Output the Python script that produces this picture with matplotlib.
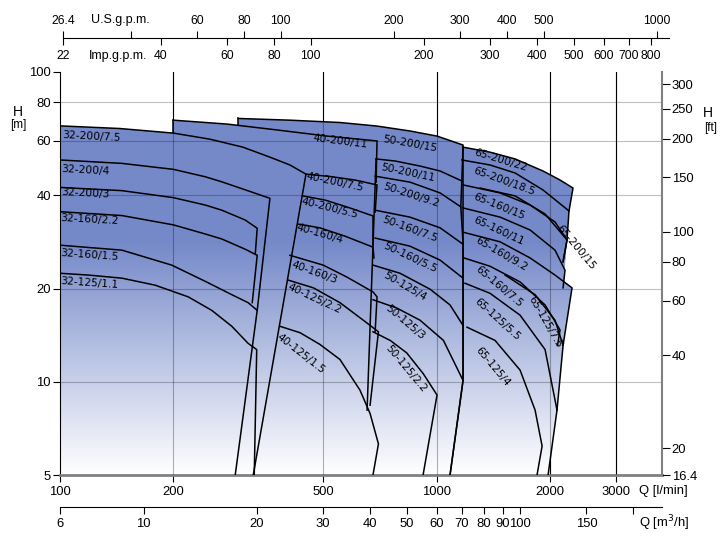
import matplotlib
matplotlib.use("Agg")
import matplotlib.pyplot as plt
from matplotlib.patches import Polygon
from matplotlib.colors import LinearSegmentedColormap
from matplotlib.ticker import NullLocator
import numpy as np

plt.rcParams['font.family'] = ['Liberation Sans Narrow', 'Liberation Sans', 'DejaVu Sans']
label_font = ['DejaVu Sans']

# ---- pump curves: Q [l/min], H [m] ----
names_32 = ['32-200/7.5', '32-200/4', '32-200/3', '32-160/2.2', '32-160/1.5', '32-125/1.1']
q_32 = [[100, 144, 200, 250, 306, 361, 408, 450],
        [100, 146, 200, 243, 269, 330, 361],
        [100, 146, 200, 243, 269, 310, 334],
        [100, 146, 200, 243, 269, 310, 334],
        [100, 146, 198, 243, 286, 316, 334],
        [100, 119, 146, 179, 219, 253, 286, 316, 333]]
h_32 = [[67.0, 65.7, 63.5, 60.7, 57.2, 53.1, 50.1, 46.8],
        [52.0, 50.7, 48.5, 45.9, 44.2, 40.6, 39.1],
        [42.4, 41.4, 39.3, 37.2, 35.8, 33.3, 31.3],
        [35.4, 34.4, 32.1, 30.0, 28.9, 26.8, 25.6],
        [27.6, 26.6, 23.8, 21.1, 19.1, 18.0, 17.0],
        [22.4, 22.1, 21.6, 20.5, 18.8, 17.0, 15.1, 13.3, 12.7]]
drop_32 = [(326, 5), (334, 17.0), (330, 25.8), (324, 18.0), (292, 5), (328, 5)]
left_32 = [100, 100, 100, 100, 100, 100]
right_32 = 326
lab_32 = [(121, 61.7, -3), (117, 48.3, -3), (117, 40.7, -3),
          (120, 33.3, -3), (120, 25.6, -4), (120, 20.9, -4)]

names_40 = ['40-200/11', '40-200/7.5', '40-200/5.5', '40-160/4', '40-160/3', '40-125/2.2', '40-125/1.5']
q_40 = [[200, 278, 377, 512, 695],
        [450, 521, 607, 695],
        [442, 506, 589, 678],
        [429, 490, 572, 678],
        [408, 500, 577, 678, 695],
        [403, 471, 554, 639, 701],
        [384, 434, 490, 554, 626, 666, 701]]
h_40 = [[69.9, 67.9, 65.0, 62.1, 59.9],
        [46.8, 46.0, 44.8, 43.2],
        [39.8, 38.6, 36.4, 34.3],
        [32.3, 31.4, 29.5, 27.2],
        [25.6, 23.8, 21.8, 19.5, 18.8],
        [21.3, 20.1, 18.0, 15.8, 14.5],
        [15.1, 14.4, 13.2, 11.8, 9.4, 7.9, 6.3]]
drop_40 = [(691, 44.1), (687, 35.3), (678, 27.6), (682, 25.1), (687, 14.5), (666, 8.4), (678, 5)]
left_40 = [200, 326, 326, 326, 326, 326, 326]
right_40 = 678
lab_40 = [(554, 59.6, -7), (538, 44.1, -12), (521, 36.4, -14), (490, 30.0, -16),
          (473, 22.6, -20), (475, 18.5, -25), (437, 12.3, -38)]

names_50 = ['50-200/15', '50-200/11', '50-200/9.2', '50-160/7.5', '50-160/5.5',
            '50-125/4', '50-125/3', '50-125/2.2']
q_50 = [[297, 408, 554, 695, 850, 1003, 1176],
        [691, 776, 904, 1022, 1167],
        [687, 850, 1022, 1160],
        [687, 850, 1022, 1176],
        [687, 850, 1022, 1176],
        [678, 800, 961, 1086, 1176],
        [678, 784, 904, 1043, 1176],
        [678, 753, 833, 923, 1003]]
h_50 = [[70.8, 69.9, 68.7, 66.9, 64.5, 62.1, 58.1],
        [52.4, 51.6, 49.7, 47.9, 44.5],
        [46.1, 44.1, 40.7, 36.7],
        [35.8, 34.0, 31.4, 27.8],
        [29.1, 27.4, 24.7, 21.6],
        [23.8, 22.4, 19.9, 17.7, 15.2],
        [18.4, 17.3, 15.8, 13.6, 10.1],
        [14.5, 13.6, 12.4, 10.6, 9.06]]
drop_50 = [(1167, 44.5), (1160, 36.7), (1176, 28.0), (1176, 21.6), (1176, 15.2),
           (1176, 10.1), (1086, 5), (921, 5)]
left_50 = [297, 678, 678, 678, 678, 678, 678, 678]
right_50 = 1086
lab_50 = [(850, 58.5, -10), (840, 47.2, -12), (855, 40.1, -18), (850, 31.1, -20),
          (850, 25.1, -25), (825, 20.3, -30), (825, 15.6, -40), (830, 11.0, -50)]

names_65 = ['65-200/22', '65-200/18.5', '65-200/15', '65-160/15', '65-160/11', '65-160/9.2',
            '65-160/7.5', '65-125/7.5', '65-125/5.5', '65-125/4']
q_65 = [[1176, 1387, 1617, 1918, 2128, 2304],
        [1167, 1387, 1617, 1918, 2248],
        [1305, 1617, 1942, 2221],
        [1176, 1475, 1772, 2064, 2221],
        [1176, 1475, 1772, 2064, 2194],
        [1176, 1475, 1772, 2064, 2290],
        [1183, 1387, 1667, 1942, 2128],
        [1521, 1827, 2064, 2168],
        [1190, 1387, 1667, 1942, 2089],
        [1205, 1430, 1667, 1827, 1907]]
h_65 = [[57.2, 55.1, 52.4, 47.9, 44.8, 42.2],
        [52.0, 50.1, 47.2, 41.6, 35.6],
        [42.2, 39.8, 34.8, 28.7],
        [43.2, 40.7, 37.2, 32.8, 28.7],
        [36.4, 34.0, 30.9, 26.6, 22.9],
        [30.4, 28.3, 25.1, 22.1, 20.1],
        [25.1, 23.6, 21.0, 17.7, 14.7],
        [22.1, 19.1, 15.8, 13.1],
        [20.8, 19.3, 16.4, 12.7, 8.1],
        [15.0, 13.6, 10.9, 8.1, 6.2]]
drop_65 = [(2248, 35.6), (2221, 28.7), (2168, 24.4), (2168, 24.4), (2168, 20.1),
           (2168, 13.1), (2096, 13.1), (2089, 8.1), (1978, 5), (1849, 5)]
left_65 = [1086] * 10
right_65 = 1978
lab_65 = [(1484, 52.0, -17), (1511, 44.5, -20), (2348, 27.2, -50), (1467, 36.7, -22),
          (1467, 30.6, -25), (1484, 25.9, -30), (1467, 20.3, -40), (1942, 15.6, -60),
          (1450, 15.9, -42), (1412, 11.2, -50)]

# boundary edges between families
edges = [[(200, 69.9), (200, 63.5)],
         [(297, 70.8), (297, 67.2)],
         [(691, 52.4), (654, 8.1)],
         [(1176, 57.2), (1176, 10.1), (1086, 5)]]

# axis ticks
q_ticks = [100, 200, 500, 1000, 2000, 3000]
h_ticks = [5, 10, 20, 40, 60, 80, 100]
ft_ticks = [16.4, 20, 40, 60, 80, 100, 150, 200, 250, 300]
m3h_ticks = [6, 10, 20, 30, 40, 50, 60, 70, 80, 90, 100, 150, 200]
m3h_labels = ['6', '10', '20', '30', '40', '50', '60', '70', '80', '90', '100', '150', '']
us_ticks = [26.4, 40, 60, 80, 100, 200, 300, 400, 500, 1000]
us_labels = ['26.4', '', '60', '80', '100', '200', '300', '400', '500', '1000']
imp_ticks = [22, 40, 60, 80, 100, 200, 300, 400, 500, 600, 700, 800]

q_max = 3970.0
blue = '#7589c9'
tick_fs = 9.4

fig = plt.figure(figsize=(7.24, 5.40), dpi=100)
ax = fig.add_axes([60 / 724, 65 / 540, 602 / 724, 403 / 540])
ax.set_xscale('log')
ax.set_yscale('log')

cmap = LinearSegmentedColormap.from_list('fade', [(0, '#ffffff'), (0.58, blue), (1, blue)])
grad = np.linspace(0, 1, 256).reshape(-1, 1)

families = [(names_32, q_32, h_32, drop_32, left_32, right_32, lab_32),
            (names_40, q_40, h_40, drop_40, left_40, right_40, lab_40),
            (names_50, q_50, h_50, drop_50, left_50, right_50, lab_50),
            (names_65, q_65, h_65, drop_65, left_65, right_65, lab_65)]

for names, qs, hs, drops, lefts, right, labs in families:
    for name, q, h, d, lb, (lq, lh, rot) in zip(names, qs, hs, drops, lefts, labs):
        pts = [(lb, 5)] + list(zip(q, h)) + [d, (right, 5)]
        poly = Polygon(pts, closed=True, transform=ax.transData)
        im = ax.imshow(grad, extent=(0, 1, 0, 1), transform=ax.transAxes, origin='lower',
                       aspect='auto', cmap=cmap, vmin=0, vmax=1, zorder=2)
        im.set_clip_path(poly)
        ax.plot(q + [d[0]], h + [d[1]], color='black', lw=1.1, zorder=4)
        ax.text(lq, lh, name, rotation=rot, rotation_mode='anchor', ha='center',
                va='center', fontsize=7.7, family=label_font, zorder=6)

for e in edges:
    ax.plot([p[0] for p in e], [p[1] for p in e], color='black', lw=1.1, zorder=4)

ax.set_xlim(100, q_max)
ax.set_ylim(5, 100)

# grid
for x in q_ticks[1:]:
    ax.axvline(x, color='black', lw=0.8, zorder=1)
    ax.axvline(x, color='black', lw=0.8, alpha=0.3, zorder=3)
for y in [10, 20, 40, 60, 80]:
    ax.axhline(y, color='black', lw=0.8, alpha=0.25, zorder=3)

ax.spines['top'].set_visible(False)
ax.spines['right'].set_visible(False)
ax.spines['left'].set_color('black')
ax.spines['bottom'].set_color('#808080')
ax.spines['bottom'].set_linewidth(2)
ax.xaxis.set_minor_locator(NullLocator())
ax.yaxis.set_minor_locator(NullLocator())
ax.set_xticks(q_ticks)
ax.set_xticklabels([str(t) for t in q_ticks])
ax.set_yticks(h_ticks)
ax.set_yticklabels([str(t) for t in h_ticks])
ax.tick_params(axis='x', direction='out', length=5, labelsize=tick_fs, pad=3)
ax.tick_params(axis='y', direction='out', length=5, labelsize=tick_fs, pad=1.5)

# right axis in feet
axr = ax.twinx()
axr.set_yscale('log')
axr.set_ylim(5 * 3.2808, 100 * 3.2808)
axr.yaxis.set_minor_locator(NullLocator())
axr.set_yticks(ft_ticks)
axr.set_yticklabels([str(t) for t in ft_ticks])
axr.tick_params(direction='out', length=6, labelsize=tick_fs, pad=1)
for s in ['top', 'left', 'bottom']:
    axr.spines[s].set_visible(False)
axr.spines['right'].set_color('#808080')
axr.spines['right'].set_linewidth(1.5)

# m3/h axis below
axm = fig.add_axes([60 / 724, 1 - 507 / 540, 602 / 724, 0.0005])
axm.set_xscale('log')
axm.set_xlim(100 / 16.667, q_max / 16.667)
for s in ['top', 'left', 'right']:
    axm.spines[s].set_visible(False)
axm.set_yticks([])
axm.xaxis.set_minor_locator(NullLocator())
axm.set_xticks(m3h_ticks)
axm.set_xticklabels(m3h_labels)
axm.tick_params(direction='out', length=5, labelsize=tick_fs, pad=3)

# gpm axis on top
axg = fig.add_axes([63 / 724, 1 - 38 / 540, 606 / 724, 0.0005])
axg.set_xscale('log')
axg.set_xlim(100, 100 * 10 ** (606 / 376.5))
for s in ['top', 'left', 'right']:
    axg.spines[s].set_visible(False)
axg.set_yticks([])
axg.xaxis.set_minor_locator(NullLocator())
axg.set_xticks([v * 4.546 for v in imp_ticks])
axg.set_xticklabels([str(v) for v in imp_ticks])
axg.tick_params(direction='out', length=5, labelsize=8.8, pad=3.5)
axu = axg.twiny()
axu.set_xscale('log')
axu.set_xlim(axg.get_xlim())
for s in ['top', 'left', 'right', 'bottom']:
    axu.spines[s].set_visible(False)
axu.xaxis.set_minor_locator(NullLocator())
axu.set_xticks([v * 3.785 for v in us_ticks])
axu.set_xticklabels(us_labels)
axu.tick_params(direction='out', length=5, labelsize=8.8, pad=3)

fig.text(91 / 724, 1 - 20 / 540, 'U.S.g.p.m.', ha='left', va='center', fontsize=9)
fig.text(89 / 724, 1 - 56 / 540, 'Imp.g.p.m.', ha='left', va='center', fontsize=9)
fig.text(639 / 724, 1 - 491 / 540, 'Q [l/min]', ha='left', va='center', fontsize=9.4,
         family=['Liberation Sans', 'DejaVu Sans'])
fig.text(639 / 724, 1 - 523 / 540, 'Q [m$^3$/h]', ha='left', va='center', fontsize=9.4,
         family=['Liberation Sans', 'DejaVu Sans'])
fig.text(18 / 724, 1 - 112 / 540, 'H', ha='center', va='center', fontsize=10)
fig.text(18 / 724, 1 - 125 / 540, '[m]', ha='center', va='center', fontsize=8.5)
fig.text(708 / 724, 1 - 113 / 540, 'H', ha='center', va='center', fontsize=10)
fig.text(711 / 724, 1 - 128 / 540, '[ft]', ha='center', va='center', fontsize=8.5)

fig.savefig('out.png', dpi=100)
